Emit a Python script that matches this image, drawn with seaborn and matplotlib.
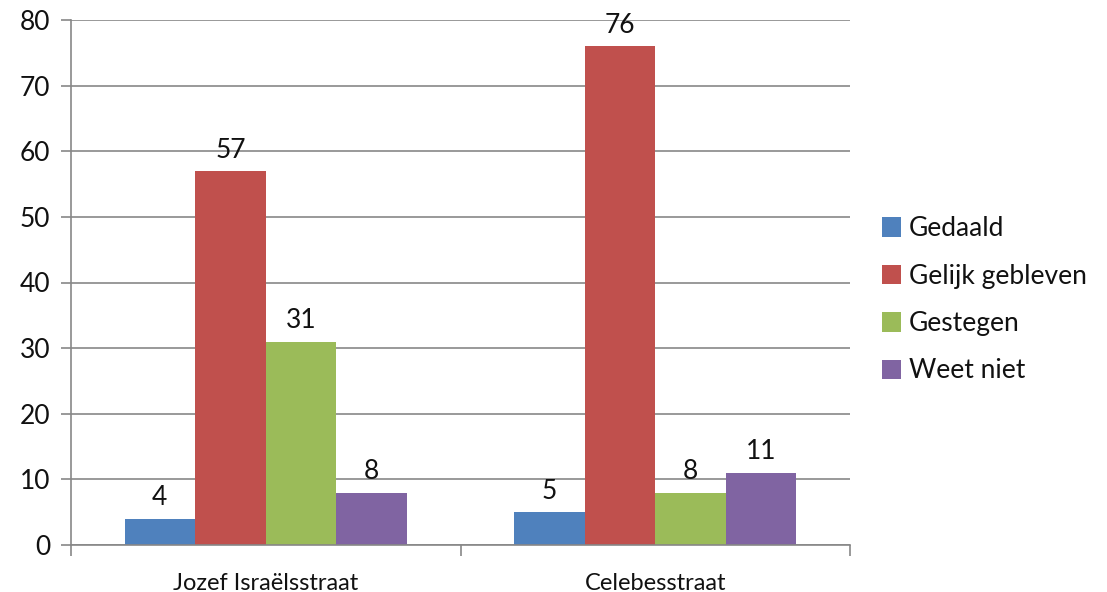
import matplotlib
matplotlib.use("Agg")
import matplotlib.pyplot as plt
import seaborn as sns
import pandas as pd
from matplotlib.ticker import FixedLocator
from matplotlib.patches import Patch

categories = ["Jozef Israëlsstraat", "Celebesstraat"]
series = ["Gedaald", "Gelijk gebleven", "Gestegen", "Weet niet"]
values_jozef = [4, 57, 31, 8]
values_celebes = [5, 76, 8, 11]
colors = ["#4F81BD", "#C0504D", "#9BBB59", "#8064A2"]

rows = []
for s, a, b in zip(series, values_jozef, values_celebes):
    rows.append({"straat": categories[0], "reeks": s, "waarde": a})
    rows.append({"straat": categories[1], "reeks": s, "waarde": b})
df = pd.DataFrame(rows)

sns.set_theme(style="white")
plt.rcParams["font.family"] = ["Lato", "DejaVu Sans"]
plt.rcParams["text.color"] = "#111111"

fig = plt.figure(figsize=(11.07, 5.92), dpi=100)
ax = fig.add_axes([71/1107, 47/592, 779/1107, 525/592])

sns.barplot(data=df, x="straat", y="waarde", hue="reeks", order=categories,
            hue_order=series, palette=colors, width=0.725, saturation=1,
            edgecolor="none", linewidth=0, ax=ax, legend=False)

for cont in ax.containers:
    ax.bar_label(cont, fmt="%d", padding=6, fontsize=19, color="#111111")

ax.set_xlim(-0.5, 1.5)
ax.set_ylim(0, 80)
ax.set_yticks(range(0, 81, 10))
ax.yaxis.grid(True, color="#878787", linewidth=1.2)
ax.set_axisbelow(True)
for sp in ["top", "right"]:
    ax.spines[sp].set_visible(False)
for sp in ["left", "bottom"]:
    ax.spines[sp].set_color("#878787")
    ax.spines[sp].set_linewidth(1.2)
ax.tick_params(axis="y", length=7, color="#878787", width=1.2, labelsize=19, pad=8,
               left=True, labelcolor="#111111")
ax.tick_params(axis="x", which="major", length=0, labelsize=17, pad=20, labelcolor="#111111")
ax.xaxis.set_minor_locator(FixedLocator([-0.5, 0.5, 1.5]))
ax.tick_params(axis="x", which="minor", length=8, color="#878787", width=1.2, bottom=True)
ax.set_xlabel("")
ax.set_ylabel("")

handles = [Patch(facecolor=c, edgecolor="none") for c in colors]
ax.legend(handles, series, loc="center left", bbox_to_anchor=(1.01, 0.467),
          frameon=False, fontsize=19, handlelength=0.75, handleheight=0.75,
          handletextpad=0.3, labelspacing=0.85, labelcolor="#111111")

fig.savefig("out.png", dpi=100)
